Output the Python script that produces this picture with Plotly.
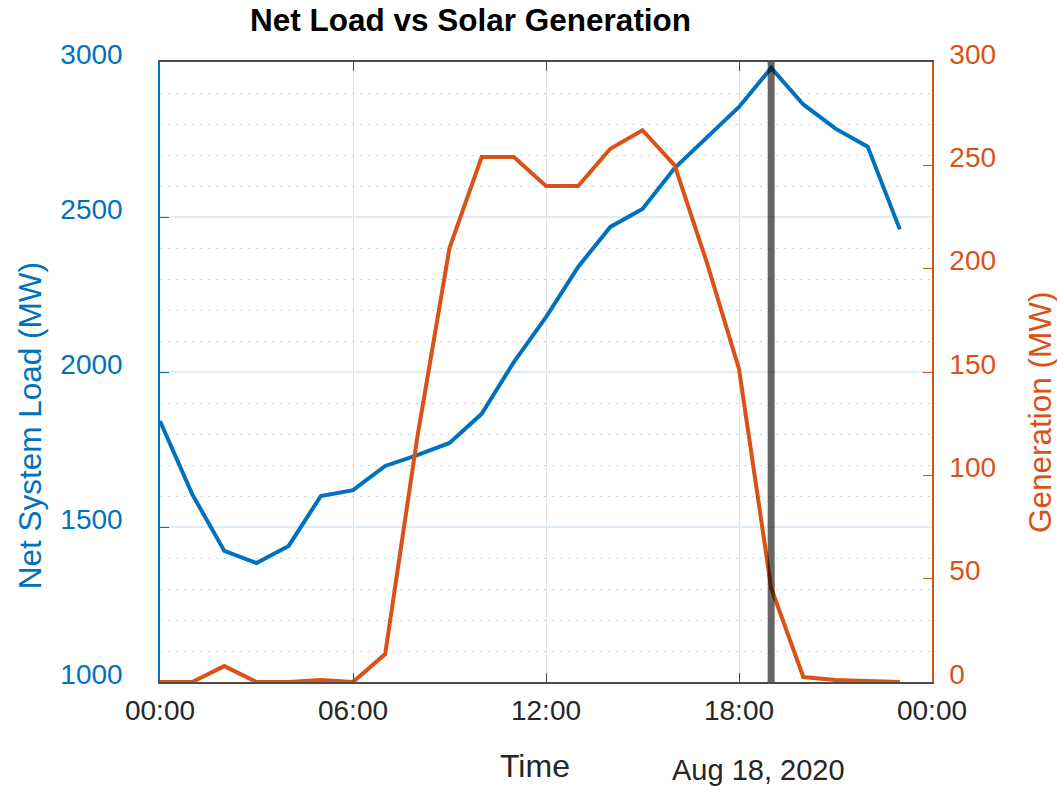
import plotly.graph_objects as go
import pandas as pd

hours = pd.date_range("2020-08-18 00:00", periods=24, freq="h")
net_load = [1842, 1606, 1423, 1384, 1439, 1600, 1619, 1697, 1732, 1771, 1865, 2032,
            2177, 2339, 2468, 2526, 2658, 2758, 2855, 2981, 2863, 2785, 2727, 2460]
solar_gen = [0, 0, 7.7, 0, 0, 1, 0, 13.5, 118.5, 210, 254, 254,
             240, 240, 258, 267, 250, 203, 151.5, 45.5, 2.4, 1, 0.5, 0]
marker_time = pd.Timestamp("2020-08-18 19:00")
x_range = ["2020-08-18 00:00", "2020-08-19 00:00"]
left_ticks = [1000, 1500, 2000, 2500, 3000]
right_ticks = [0, 50, 100, 150, 200, 250, 300]

BLUE = "#0072BD"
ORANGE = "#D95319"
DARK = "#262626"
FONT = "Liberation Sans, Arial, sans-serif"

fig = go.Figure()
fig.add_trace(go.Scatter(x=hours, y=net_load, mode="lines",
                         line=dict(color=BLUE, width=4), yaxis="y", showlegend=False))
fig.add_trace(go.Scatter(x=hours, y=solar_gen, mode="lines",
                         line=dict(color=ORANGE, width=4), yaxis="y2", showlegend=False))

fig.add_shape(type="line", xref="x", yref="paper", x0=marker_time, x1=marker_time,
              y0=0, y1=1, line=dict(color="rgba(0,0,0,0.6)", width=7), layer="above")

fig.update_layout(
    width=1057, height=786,
    margin=dict(l=160, r=125, t=62, b=104),
    paper_bgcolor="white", plot_bgcolor="white",
    font=dict(family=FONT, size=28, color=DARK),
    xaxis=dict(
        type="date", range=x_range, dtick=6 * 3600 * 1000, tickformat="%H:%M",
        tick0="2020-08-18 00:00",
        showline=True, linecolor="#4d4d4d", linewidth=1.5, mirror="ticks",
        ticks="inside", ticklen=9, tickcolor="#4d4d4d",
        showgrid=True, gridcolor="#e3e3e3", gridwidth=1,
        tickfont=dict(size=28, color=DARK), ticklabelstandoff=3,
        zeroline=False,
    ),
    yaxis=dict(
        range=[1000, 3000], tickvals=left_ticks,
        showline=True, linecolor=BLUE, linewidth=1.5,
        ticks="inside", ticklen=9, tickcolor=BLUE,
        showgrid=True, gridcolor="#dfebf5", gridwidth=1.5,
        minor=dict(dtick=100, tick0=1000, showgrid=True, gridcolor="#bcd7ec",
                   griddash="2px,6px", gridwidth=1, ticks=""),
        tickfont=dict(size=28, color=BLUE), ticklabelstandoff=30,
        ticklabelshift=-8,
        zeroline=False,
    ),
    yaxis2=dict(
        range=[0, 300], tickvals=right_ticks, overlaying="y", side="right",
        showline=True, linecolor=ORANGE, linewidth=1.5,
        ticks="inside", ticklen=9, tickcolor=ORANGE,
        showgrid=False, zeroline=False,
        tickfont=dict(size=28, color=ORANGE), ticklabelstandoff=10,
        ticklabelshift=-8,
    ),
    annotations=[
        dict(text="<b>Net Load vs Solar Generation</b>", xref="paper", yref="paper",
             x=0.4016, y=1.0677, showarrow=False, font=dict(size=31.5, color="black"),
             xanchor="center", yanchor="middle"),
        dict(text="Net System Load (MW)", xref="paper", yref="paper",
             x=-0.168, y=0.4129, showarrow=False, textangle=-90,
             font=dict(size=31.5, color=BLUE), xanchor="center", yanchor="middle"),
        dict(text="Generation (MW)", xref="paper", yref="paper",
             x=1.140, y=0.4355, showarrow=False, textangle=-90,
             font=dict(size=31.5, color=ORANGE), xanchor="center", yanchor="middle"),
        dict(text="Time", xref="paper", yref="paper",
             x=0.486, y=-0.1355, showarrow=False,
             font=dict(size=32, color=DARK), xanchor="center", yanchor="middle"),
        dict(text="Aug 18, 2020", xref="paper", yref="paper",
             x=0.775, y=-0.1419, showarrow=False,
             font=dict(size=29, color=DARK), xanchor="center", yanchor="middle"),
    ],
)

fig.write_html("out.html")
